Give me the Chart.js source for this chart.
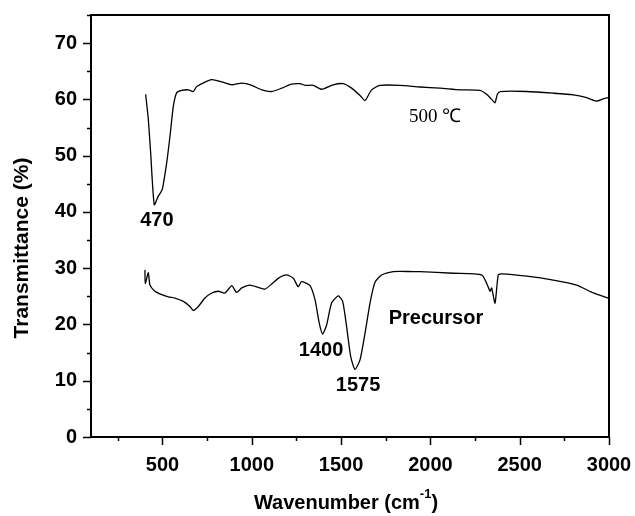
<!DOCTYPE html>
<html>
<head>
<meta charset="utf-8">
<script src="https://cdn.jsdelivr.net/npm/chart.js@4.4.0/dist/chart.umd.min.js"></script>
<style>
  html, body { margin: 0; padding: 0; background: #fff; }
  #wrap { width: 635px; height: 516px; }
</style>
</head>
<body>
<div id="wrap"><canvas id="chart" width="635" height="516"></canvas></div>
<script>
// 500 C sample
let wn500 = [406, 421, 434, 454, 477, 499, 524, 542, 561, 580, 608, 645, 673, 692, 775, 832, 888, 944, 1000, 1056, 1112, 1168, 1223, 1270, 1298, 1344, 1392, 1456, 1512, 1559, 1606, 1634, 1671, 1718, 1830, 1942, 2054, 2166, 2278, 2315, 2343, 2352, 2362, 2375, 2390, 2539, 2688, 2800, 2875, 2931, 2968, 2996];
let t500  = [60.9, 56.4, 50.5, 41.3, 42.8, 44.0, 48.8, 53.4, 58.8, 61.2, 61.6, 61.7, 61.4, 62.3, 63.5, 63.1, 62.6, 62.9, 62.5, 61.7, 61.4, 62.0, 62.7, 62.8, 62.5, 62.5, 61.8, 62.6, 62.8, 62.0, 60.7, 59.8, 61.7, 62.5, 62.5, 62.2, 62.0, 61.7, 61.6, 60.9, 60.0, 59.7, 59.4, 60.9, 61.4, 61.4, 61.1, 60.8, 60.3, 59.7, 60.1, 60.3];

// precursor
let wnPre = [402, 404, 421, 430, 458, 496, 533, 570, 617, 654, 673, 701, 738, 776, 813, 850, 888, 915, 944, 990, 1036, 1074, 1112, 1148, 1195, 1233, 1260, 1279, 1326, 1354, 1378, 1397, 1419, 1447, 1484, 1509, 1531, 1554, 1578, 1606, 1634, 1662, 1690, 1727, 1792, 1904, 1942, 2128, 2287, 2315, 2334, 2343, 2362, 2380, 2399, 2539, 2688, 2819, 2912, 2996];
let tPre  = [29.7, 27.3, 29.2, 27.0, 25.9, 25.3, 24.9, 24.7, 24.1, 23.2, 22.5, 23.2, 24.7, 25.6, 25.9, 25.6, 26.9, 25.7, 26.5, 27.0, 26.6, 26.3, 27.2, 28.2, 28.8, 28.2, 26.7, 27.6, 26.9, 24.4, 20.2, 18.3, 19.9, 23.8, 25.1, 24.1, 19.6, 14.3, 12.0, 13.7, 18.4, 23.8, 27.5, 28.8, 29.4, 29.4, 29.4, 29.1, 28.8, 27.3, 25.9, 26.5, 23.8, 28.8, 29.0, 28.6, 27.9, 27.0, 25.6, 24.7];

let xTicks = [250, 500, 750, 1000, 1250, 1500, 1750, 2000, 2250, 2500, 2750, 3000];
let yTicks = [0, 5, 10, 15, 20, 25, 30, 35, 40, 45, 50, 55, 60, 65, 70, 75];

// annotations: [text, x, y, font]
let notes = [
    ["470", 469, 38.4, "bold 20px 'Liberation Sans', Arial"],
    ["1400", 1388, 15.3, "bold 20px 'Liberation Sans', Arial"],
    ["1575", 1595, 9.1, "bold 20px 'Liberation Sans', Arial"],
    ["Precursor", 2031, 21.0, "bold 20px 'Liberation Sans', Arial"],
    ["500 \u2103", 2026, 56.8, "19px 'Liberation Serif', 'Times New Roman'"]
];

function toPoints(xs, ys) {
    return xs.map((x, i) => ({ x: x, y: ys[i] }));
}

const boldFont = { family: "'Liberation Sans', Arial", size: 20, weight: 'bold' };

const extras = {
    id: 'extras',
    afterDraw(chart) {
        const ctx = chart.ctx;
        const a = chart.chartArea;
        const xs = chart.scales.x;
        const ys = chart.scales.y;
        ctx.save();
        ctx.strokeStyle = '#000';
        ctx.lineWidth = 2;
        ctx.strokeRect(a.left, a.top, a.right - a.left, a.bottom - a.top);

        // tick marks
        ctx.lineWidth = 1.5;
        ctx.beginPath();
        xTicks.forEach(v => {
            let px = Math.round(xs.getPixelForValue(v)) + 0.5;
            let len = v % 500 === 0 ? 8 : 4;
            ctx.moveTo(px, a.bottom);
            ctx.lineTo(px, a.bottom + len);
        });
        yTicks.forEach(v => {
            let py = Math.round(ys.getPixelForValue(v)) + 0.5;
            let len = v % 10 === 0 ? 8 : 4;
            ctx.moveTo(a.left, py);
            ctx.lineTo(a.left - len, py);
        });
        ctx.stroke();

        // annotations
        ctx.fillStyle = '#000';
        ctx.textAlign = 'center';
        ctx.textBaseline = 'middle';
        notes.forEach(n => {
            ctx.font = n[3];
            ctx.fillText(n[0], xs.getPixelForValue(n[1]), ys.getPixelForValue(n[2]));
        });

        // x title with superscript
        ctx.font = "bold 20px 'Liberation Sans', Arial";
        ctx.textAlign = 'left';
        ctx.textBaseline = 'alphabetic';
        let main = 'Wavenumber (cm';
        let wMain = ctx.measureText(main).width;
        ctx.font = "bold 13px 'Liberation Sans', Arial";
        let wSup = ctx.measureText('-1').width;
        ctx.font = "bold 20px 'Liberation Sans', Arial";
        let wEnd = ctx.measureText(')').width;
        let total = wMain + wSup + wEnd;
        let x0 = 346 - total / 2;
        let base = 509;
        ctx.fillText(main, x0, base);
        ctx.font = "bold 13px 'Liberation Sans', Arial";
        ctx.fillText('-1', x0 + wMain, base - 11);
        ctx.font = "bold 20px 'Liberation Sans', Arial";
        ctx.fillText(')', x0 + wMain + wSup, base);

        // y title
        ctx.translate(22, 248);
        ctx.rotate(-Math.PI / 2);
        ctx.textAlign = 'center';
        ctx.textBaseline = 'middle';
        ctx.font = "bold 21px 'Liberation Sans', Arial";
        ctx.fillText('Transmittance (%)', 0, 0);
        ctx.restore();
    }
};

const ctx = document.getElementById('chart').getContext('2d');

new Chart(ctx, {
    type: 'line',
    data: {
        datasets: [
            { label: '500 C', data: toPoints(wn500, t500) },
            { label: 'Precursor', data: toPoints(wnPre, tPre) }
        ]
    },
    options: {
        responsive: false,
        animation: false,
        parsing: false,
        layout: { padding: { left: 0, right: 26, top: 15, bottom: 0 } },
        elements: {
            line: { borderColor: '#000', borderWidth: 1.3, tension: 0.2, fill: false },
            point: { radius: 0 }
        },
        plugins: {
            legend: { display: false },
            tooltip: { enabled: false }
        },
        scales: {
            x: {
                type: 'linear',
                min: 100,
                max: 3000,
                afterFit: s => { s.height = 79; s.paddingLeft = 0; s.paddingRight = 0; },
                afterBuildTicks: s => { s.ticks = xTicks.map(v => ({ value: v })); },
                grid: { display: false, drawTicks: false },
                border: { display: false },
                ticks: {
                    padding: 16,
                    color: '#000',
                    font: boldFont,
                    maxRotation: 0,
                    autoSkip: false,
                    callback: v => (v % 500 === 0 ? v : '')
                }
            },
            y: {
                type: 'linear',
                min: 0,
                max: 75,
                afterFit: s => { s.width = 91; s.paddingTop = 0; s.paddingBottom = 0; },
                afterBuildTicks: s => { s.ticks = yTicks.map(v => ({ value: v })); },
                grid: { display: false, drawTicks: false },
                border: { display: false },
                ticks: {
                    padding: 14,
                    color: '#000',
                    font: boldFont,
                    autoSkip: false,
                    callback: v => (v % 10 === 0 ? v : '')
                }
            }
        }
    },
    plugins: [extras]
});
</script>
</body>
</html>
